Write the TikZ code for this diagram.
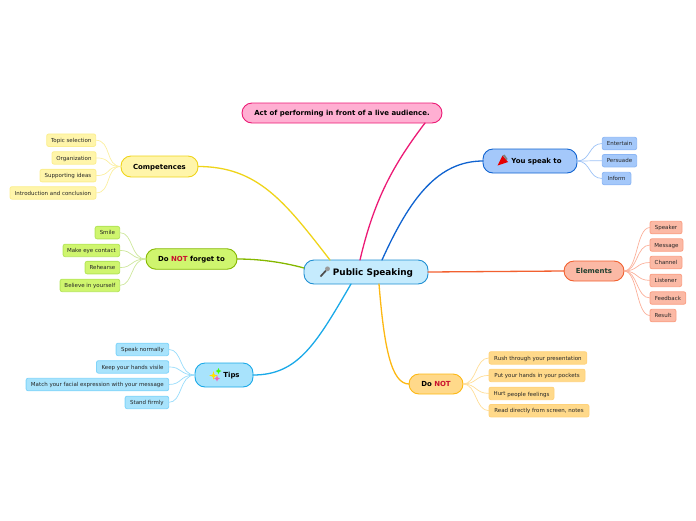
\documentclass[tikz,border=0pt]{standalone}
\usepackage{fontspec}
\setmainfont{DejaVu Sans}
\definecolor{cenF}{HTML}{C5EBFD}\definecolor{cenD}{HTML}{1F8FD2}
\definecolor{pkF}{HTML}{FFAFD2}\definecolor{pkD}{HTML}{EC1A75}
\definecolor{blF}{HTML}{A4C8FA}\definecolor{blD}{HTML}{1063D0}\definecolor{blL}{HTML}{9CC2F6}\definecolor{blB}{HTML}{8DB7F5}
\definecolor{orF}{HTML}{FBB9A5}\definecolor{orD}{HTML}{F2602F}\definecolor{orL}{HTML}{FBB09A}\definecolor{orB}{HTML}{FA9F84}
\definecolor{amF}{HTML}{FFD98A}\definecolor{amD}{HTML}{FDB813}\definecolor{amL}{HTML}{FFDD96}\definecolor{amB}{HTML}{FFD27A}
\definecolor{skF}{HTML}{A8E3FC}\definecolor{skD}{HTML}{1AA9E8}\definecolor{skL}{HTML}{97DCFB}\definecolor{skB}{HTML}{7FD4FA}
\definecolor{grF}{HTML}{CFF56E}\definecolor{grD}{HTML}{85B800}\definecolor{grL}{HTML}{CDE79A}\definecolor{grB}{HTML}{B5E65A}
\definecolor{yeF}{HTML}{FFF5AA}\definecolor{yeD}{HTML}{EFD41A}\definecolor{yeL}{HTML}{FBEFA0}\definecolor{yeB}{HTML}{FBEE90}
\definecolor{notred}{HTML}{C8102E}
\definecolor{eltext}{HTML}{1F4030}
\tikzset{
  x=1pt,y=-1pt,
  box/.style={draw,rounded corners=#1,inner sep=0pt,outer sep=0pt,align=center,text=black},
  main/.style args={#1/#2/#3/#4}{box=10pt,fill=#1,draw=#2,line width=0.9pt,minimum width=#3,minimum height=#4,font=\fontsize{6.95}{9}\selectfont\bfseries,text height=5.2pt,text depth=0pt},
  leaf/.style args={#1/#2/#3}{box=2pt,fill=#1,draw=#2,line width=0.8pt,minimum width=#3,minimum height=12.5pt,text=black!85,font=\fontsize{5.5}{7}\selectfont,text height=4.2pt,text depth=0pt},
  trunk/.style={line width=1.3pt,line cap=round},
  twig/.style={line width=0.7pt}
}
\newcommand{\sparkle}[4]{\fill[#4] (#1,#2-#3) .. controls (#1+.7,#2-.7) .. (#1+#3,#2) .. controls (#1+.7,#2+.7) .. (#1,#2+#3) .. controls (#1-.7,#2+.7) .. (#1-#3,#2) .. controls (#1-.7,#2-.7) .. cycle;}
\begin{document}
\begin{tikzpicture}
\useasboundingbox (0,0) rectangle (696,520);
% main nodes
\node[main={cenF/cenD/124pt/24pt},font=\fontsize{8.9}{10}\selectfont\bfseries,text height=6.6pt] (c) at (366,272) {\hspace{14pt}Public Speaking};
\node[main={pkF/pkD/200pt/20pt}] (act) at (342,113) {Act of performing in front of a live audience.};
\node[main={blF/blD/94pt/24pt}] (you) at (530,161) {\hspace{13pt}You speak to};
\node[main={orF/orD/60pt/20pt},text=eltext] (el) at (594,271) {Elements};
\node[main={amF/amD/54pt/20pt}] (dn) at (436,384) {Do \textcolor{notred}{NOT}};
\node[main={skF/skD/58pt/24pt}] (tips) at (224,375) {\hspace{15pt}Tips};
\node[main={grF/grD/91pt/20.5pt}] (fg) at (191.5,259) {Do \textcolor{notred}{NOT} forget to};
\node[main={yeF/yeD/77pt/21pt}] (cp) at (159.5,166.5) {Competences};
% leaves
\foreach \n/\cx/\cy/\w/\t in {
  y1/71.2/140.2/49/Topic selection,
  y2/74/157.9/44/Organization,
  y3/68/175.6/56/Supporting ideas,
  y4/53/192.9/86/Introduction and conclusion}{
  \node[leaf={yeF/yeB/\w pt}] (\n) at (\cx,\cy) {\t};}
\foreach \n/\cx/\cy/\w/\t in {
  g1/107.4/232.6/24.6/Smile,
  g2/91.4/250.4/56.6/Make eye contact,
  g3/102.4/267.6/34.6/Rehearse,
  g4/89.9/285.4/59.6/Believe in yourself}{
  \node[leaf={grF/grB/\w pt}] (\n) at (\cx,\cy) {\t};}
\foreach \n/\cx/\cy/\w/\t in {
  s1/142.4/349.4/52.6/Speak normally,
  s2/132.6/366.9/72.2/Keep your hands visile,
  s3/97.4/384.5/142.6/Match your facial expression with your message,
  s4/146.9/402.4/43.6/Stand firmly}{
  \node[leaf={skF/skB/\w pt}] (\n) at (\cx,\cy) {\t};}
\foreach \n/\cx/\cy/\w/\t in {
  a1/537.9/357.9/97.7/Rush through your presentation,
  a2/537/375.4/96/Put your hands in your pockets,
  a4/539/410.7/100/Read directly from screen{,} notes}{
  \node[leaf={amF/amB/\w pt}] (\n) at (\cx,\cy) {\t};}
\node[leaf={amF/amB/65pt}] (a3) at (521.5,393.4) {Hurt \raisebox{-0.7pt}{people feelings}};
\foreach \n/\cx/\cy/\w/\t in {
  b1/619.5/143.5/34.4/Entertain,
  b2/619.5/160.7/34.4/Persuade,
  b3/616.6/178.5/28.7/Inform}{
  \node[leaf={blF/blB/\w pt}] (\n) at (\cx,\cy) {\t};}
\foreach \n/\cx/\cy/\w/\t in {
  o1/666/227.5/32/Speaker,
  o2/666.5/245/33/Message,
  o3/666/262.5/32/Channel,
  o4/665.8/280.4/31.7/Listener,
  o5/667.9/298/35.7/Feedback,
  o6/663/315.5/26/Result}{
  \node[leaf={orF/orB/\w pt}] (\n) at (\cx,\cy) {\t};}
% trunks
\draw[trunk,draw=pkD] ([xshift=56pt]c.north west) .. controls +(14,-60) and +(-32,42) .. ([xshift=-17pt]act.south east);
\draw[trunk,draw=blD] ([xshift=78pt]c.north west) .. controls +(28,-62) and +(-45,0) .. (you.west);
\draw[trunk,draw=yeD] ([xshift=26pt]c.north west) .. controls +(-45,-58) and +(60,0) .. (cp.east);
\draw[trunk,draw=grD] ([yshift=-8pt]c.north west) .. controls +(-22,-6) and +(22,0) .. (fg.east);
\draw[trunk,draw=skD] ([xshift=47pt]c.south west) .. controls +(-35,60) and +(45,0) .. (tips.east);
\draw[trunk,draw=amD] ([xshift=75pt]c.south west) .. controls +(5,62) and +(-18,0) .. (dn.west);
\draw[trunk,draw=orD] (c.east) -- (el.west);
% twigs
\foreach \n in {y1,y2,y3,y4}{\draw[twig,draw=yeL] (cp.west) .. controls +(-16,0) and +(16,0) .. (\n.east);}
\foreach \n in {g1,g2,g3,g4}{\draw[twig,draw=grL] (fg.west) .. controls +(-16,0) and +(14,0) .. (\n.east);}
\foreach \n in {s1,s2,s3,s4}{\draw[twig,draw=skL] (tips.west) .. controls +(-16,0) and +(14,0) .. (\n.east);}
\foreach \n in {a1,a2,a3,a4}{\draw[twig,draw=amL] (dn.east) .. controls +(14,0) and +(-14,0) .. (\n.west);}
\foreach \n in {b1,b2,b3}{\draw[twig,draw=blL] (you.east) .. controls +(14,0) and +(-14,0) .. (\n.west);}
\foreach \n in {o1,o2,o3,o4,o5,o6}{\draw[twig,draw=orL] (el.east) .. controls +(14,0) and +(-14,0) .. (\n.west);}
% icons
\draw[line width=1.7pt,black!70] (320.5,276.5) -- (326,270.5);
\fill[black!40] (327.5,268.8) circle (2.4pt);
\fill[red!90!black] (497.5,165.5) -- (502.5,155.5) -- (508,162) -- cycle;
\fill[black!50] (502.5,155.5) -- (504.5,154.5) -- (507.5,159) -- (506.5,160) -- cycle;
\sparkle{213.5}{375.5}{4.5}{yellow!85!orange}
\sparkle{218.5}{371}{3}{green!75!yellow}
\sparkle{217}{378.5}{3}{magenta!60}
\end{tikzpicture}
\end{document}
